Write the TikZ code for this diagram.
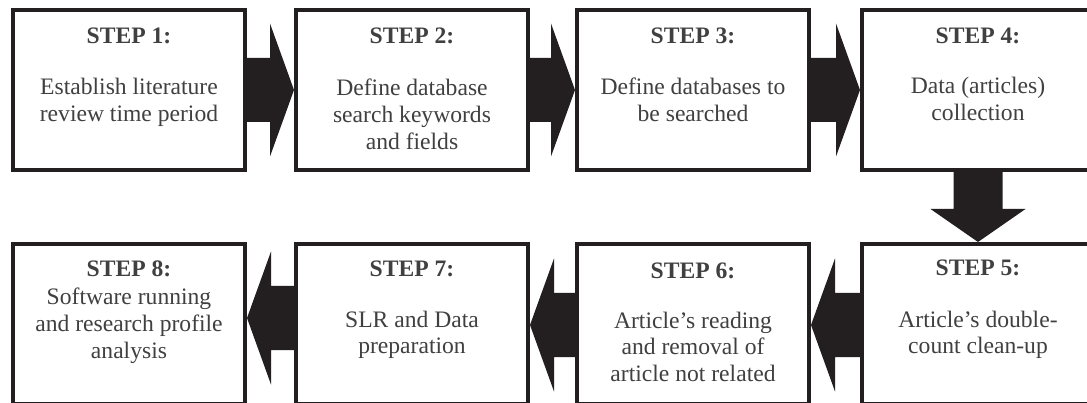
\documentclass[tikz,border=0pt]{standalone}
\usepackage{fontspec}
\setmainfont{Liberation Serif}
\usetikzlibrary{calc}
\definecolor{ink}{HTML}{231F20}
\definecolor{txt}{HTML}{404040}
\newcommand\mylines[1]{\begin{tabular}[t]{@{}c@{}}#1\end{tabular}}
\newcommand\myrarrow[3]{%
  \fill[arrowfill] ($(#1.east)+(0,#3-32)$) -- ($(#2.west)+(-24,#3-32)$) -- ($(#2.west)+(-24,#3-66.5)$) -- ($(#2.west)+(0,#3)$) -- ($(#2.west)+(-24,#3+66.5)$) -- ($(#2.west)+(-24,#3+32)$) -- ($(#1.east)+(0,#3+32)$) -- cycle;}
\newcommand\mylarrow[3]{%
  \fill[arrowfill] ($(#1.west)+(0,#3-32)$) -- ($(#2.east)+(24,#3-32)$) -- ($(#2.east)+(24,#3-66.5)$) -- ($(#2.east)+(0,#3)$) -- ($(#2.east)+(24,#3+66.5)$) -- ($(#2.east)+(24,#3+32)$) -- ($(#1.west)+(0,#3+32)$) -- cycle;}
\begin{document}
\begin{tikzpicture}[x=1pt,y=-1pt,
  stepbox/.style={draw=ink, line width=4pt, minimum width=232pt, minimum height=160pt, inner sep=0pt},
  hdr/.style={font=\fontsize{23.6}{26.7}\selectfont\bfseries, text=txt, inner sep=0pt, anchor=base},
  body/.style={font=\fontsize{23.6}{26.7}\selectfont, text=txt, inner sep=0pt, anchor=base},
  arrowfill/.style={fill=ink}]
\useasboundingbox (0,0) rectangle (1087,403);
\fill[white] (0,0) rectangle (1087,403);
\clip (0,0) rectangle (1087,403);
% top row
\node[stepbox] (b1) at (129,90) {};
\node[stepbox] (b2) at (412,90) {};
\node[stepbox] (b3) at (693,90) {};
\node[stepbox] (b4) at (978,90) {};
% bottom row
\node[stepbox] (b8) at (129,324) {};
\node[stepbox] (b7) at (412,324) {};
\node[stepbox] (b6) at (693,324) {};
\node[stepbox] (b5) at (978,324) {};
% texts
\node[hdr] (h1) at (129,44) {STEP 1:};
\node[body] (t1) at (129,95) {\mylines{Establish literature\\review time period}};
\node[hdr] (h2) at (412,44) {STEP 2:};
\node[body] (t2) at (412,96) {\mylines{Define database\\search keywords\\and fields}};
\node[hdr] (h3) at (693,44) {STEP 3:};
\node[body] (t3) at (693,95) {\mylines{Define databases to\\be searched}};
\node[hdr] (h4) at (978,44) {STEP 4:};
\node[body] (t4) at (978,94) {\mylines{Data (articles)\\collection}};
\node[hdr] (h5) at (978,276) {STEP 5:};
\node[body] (t5) at (978,327) {\mylines{Article’s double-\\count clean-up}};
\node[hdr] (h6) at (693,279) {STEP 6:};
\node[body] (t6) at (693,328) {\mylines{Article’s reading\\and removal of\\article not related}};
\node[hdr] (h7) at (412,277) {STEP 7:};
\node[body] (t7) at (412,327) {\mylines{SLR and Data\\preparation}};
\node[hdr] (h8) at (129,277) {STEP 8:};
\node[body] (t8) at (129,305) {\mylines{Software running\\and research profile\\analysis}};
% arrows
\myrarrow{b1}{b2}{0}
\myrarrow{b2}{b3}{0}
\myrarrow{b3}{b4}{0}
\fill[arrowfill] ($(b4.south)+(-24.5,0)$) -- ($(b5.north)+(-24.5,-33)$) -- ($(b5.north)+(-47.5,-33)$) -- (b5.north) -- ($(b5.north)+(47.5,-33)$) -- ($(b5.north)+(24.5,-33)$) -- ($(b4.south)+(24.5,0)$) -- cycle;
\mylarrow{b5}{b6}{1}
\mylarrow{b6}{b7}{1}
\mylarrow{b7}{b8}{-6}
\end{tikzpicture}
\end{document}
